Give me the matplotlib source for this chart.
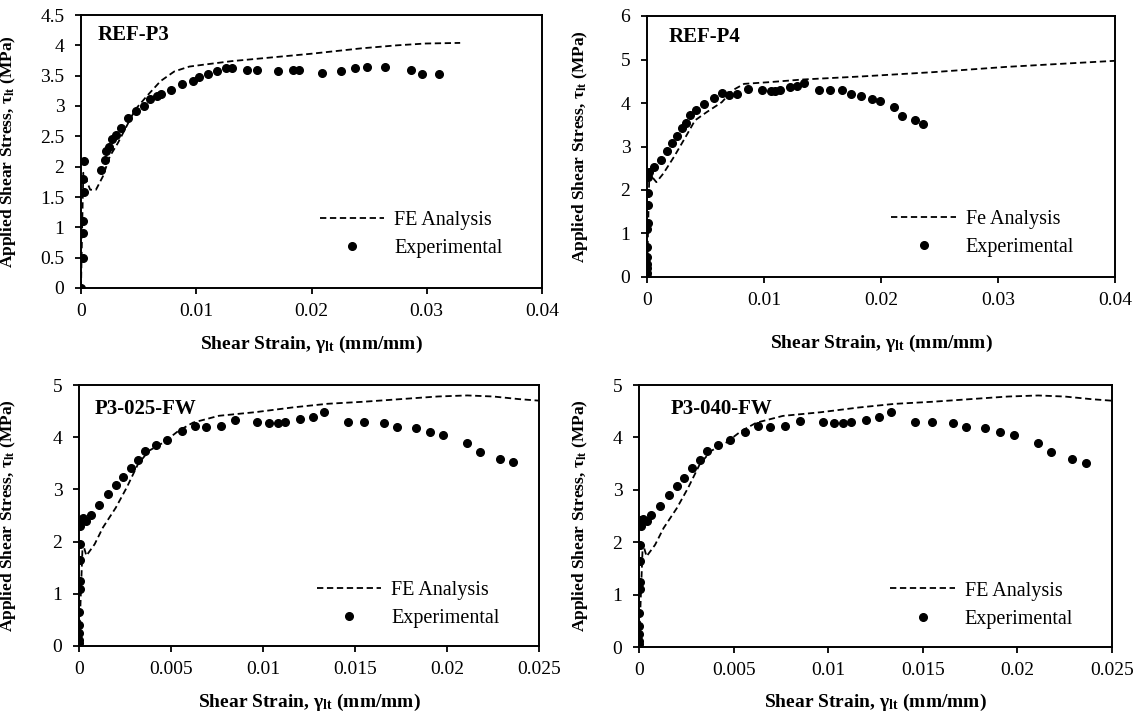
import matplotlib
matplotlib.use("Agg")
import matplotlib.pyplot as plt

plt.rcParams['font.family'] = ['Liberation Serif', 'DejaVu Serif']
plt.rcParams['mathtext.fontset'] = 'custom'
plt.rcParams['mathtext.rm'] = 'Liberation Serif:bold'
plt.rcParams['mathtext.bf'] = 'Liberation Serif:bold'
plt.rcParams['mathtext.it'] = 'Liberation Serif:bold'

# ---- REF-P3 ----
p3_exp_x = [0, 0.0002, 0.0002, 0.0002, 0.0003, 0.0002, 0.0003, 0.00177, 0.0021, 0.0022,
            0.0024, 0.0027, 0.0030, 0.0035, 0.0041, 0.0048, 0.0055, 0.0060, 0.0066, 0.0069,
            0.0078, 0.0088, 0.0097, 0.0102, 0.0110, 0.0118, 0.0126, 0.0131, 0.0144, 0.0153,
            0.0171, 0.0184, 0.0189, 0.0209, 0.0226, 0.0238, 0.0248, 0.0264, 0.0286, 0.0296,
            0.0311]
p3_exp_y = [0, 0.5, 0.91, 1.1, 1.58, 1.8, 2.1, 1.95, 2.11, 2.25,
            2.33, 2.45, 2.53, 2.64, 2.8, 2.91, 3.0, 3.12, 3.16, 3.2,
            3.27, 3.36, 3.42, 3.47, 3.52, 3.57, 3.62, 3.62, 3.59, 3.59,
            3.57, 3.59, 3.59, 3.55, 3.58, 3.62, 3.65, 3.64, 3.6, 3.52,
            3.52]
p3_fe_x = [0, 0.0001, 0.0002, 0.0008, 0.0013, 0.0019, 0.0025, 0.0032, 0.0038, 0.0047,
           0.0057, 0.0069, 0.0081, 0.0094, 0.0106, 0.0131, 0.0165, 0.0199, 0.0243, 0.0274,
           0.0299, 0.0329]
p3_fe_y = [0, 1.0, 1.9, 1.62, 1.62, 1.84, 2.17, 2.39, 2.61, 2.94,
           3.16, 3.41, 3.57, 3.65, 3.68, 3.74, 3.8, 3.86, 3.95, 4.0,
           4.03, 4.04]

# ---- REF-P4 ----
p4_exp_x = [0, 0, 0, 0, 0.00002, 0.00002, 0.00004, 0.00006, 0.00008, 0.0001,
            0.0001, 0.0002, 0.0006, 0.0012, 0.0017, 0.0021, 0.0026, 0.0030, 0.0033, 0.0037,
            0.0042, 0.0049, 0.0057, 0.0064, 0.0070, 0.0077, 0.0086, 0.0098, 0.0106, 0.0109,
            0.0114, 0.0122, 0.0128, 0.0134, 0.0147, 0.0156, 0.0167, 0.0174, 0.0183, 0.0192,
            0.0199, 0.0211, 0.0218, 0.0229, 0.0236]
p4_exp_y = [0, 0.1, 0.2, 0.3, 0.46, 0.68, 1.1, 1.25, 1.65, 1.93,
            2.3, 2.42, 2.53, 2.7, 2.9, 3.08, 3.23, 3.43, 3.55, 3.72,
            3.85, 3.97, 4.12, 4.23, 4.19, 4.21, 4.33, 4.29, 4.28, 4.28,
            4.31, 4.37, 4.39, 4.46, 4.31, 4.31, 4.29, 4.21, 4.15, 4.09,
            4.04, 3.91, 3.7, 3.62, 3.51]
p4_fe_x = [0, 0.0001, 0.0002, 0.0008, 0.0014, 0.0023, 0.0033, 0.0041, 0.0051, 0.0064,
           0.0073, 0.0083, 0.0105, 0.0133, 0.0183, 0.0245, 0.0307, 0.04]
p4_fe_y = [0, 1.2, 2.38, 2.18, 2.38, 2.76, 3.22, 3.6, 3.79, 4.02,
           4.29, 4.44, 4.48, 4.54, 4.61, 4.71, 4.83, 4.97]

# ---- P3-025-FW ----
fw25_exp_x = [0, 0, 0.00002, 0.00002, 0.00002, 0.00004, 0.00004, 0.00004, 0.00006, 0.00008,
              0.0001, 0.0002, 0.0004, 0.00065, 0.0011, 0.0016, 0.0020, 0.0024, 0.0028, 0.0032,
              0.0036, 0.0042, 0.0048, 0.0056, 0.0063, 0.0069, 0.0077, 0.0085, 0.0097, 0.0103,
              0.0108, 0.0112, 0.0120, 0.0127, 0.0133, 0.0146, 0.0155, 0.0166, 0.0173, 0.0183,
              0.0191, 0.0198, 0.0211, 0.0218, 0.0229, 0.0236]
fw25_exp_y = [0.05, 0.12, 0.25, 0.4, 0.65, 1.1, 1.25, 1.65, 1.95, 2.3,
              2.42, 2.45, 2.4, 2.51, 2.7, 2.91, 3.08, 3.23, 3.41, 3.57,
              3.74, 3.85, 3.95, 4.11, 4.22, 4.19, 4.22, 4.32, 4.3, 4.27,
              4.27, 4.3, 4.34, 4.39, 4.48, 4.3, 4.3, 4.27, 4.2, 4.17,
              4.1, 4.04, 3.89, 3.72, 3.59, 3.52]
fw25_fe_x = [0, 0.0001, 0.0002, 0.0004, 0.00085, 0.0013, 0.0020, 0.0026, 0.0032, 0.0038,
             0.0046, 0.0054, 0.0062, 0.0076, 0.0096, 0.0116, 0.0135, 0.0155, 0.0175, 0.0195,
             0.0211, 0.0225, 0.0239, 0.025]
fw25_fe_y = [0, 1.0, 1.98, 1.73, 1.95, 2.27, 2.65, 3.04, 3.48, 3.74,
             3.9, 4.12, 4.28, 4.41, 4.48, 4.57, 4.64, 4.68, 4.73, 4.78,
             4.8, 4.78, 4.73, 4.7]

# ---- P3-040-FW (same test curves) ----
fw40_exp_x = list(fw25_exp_x)
fw40_exp_y = list(fw25_exp_y)
fw40_fe_x = list(fw25_fe_x)
fw40_fe_y = list(fw25_fe_y)

FS = 14


def draw_panel(ax, box, exp_x, exp_y, fe_x, fe_y, title, fe_name, xmax, xticks, xlabels,
               ymax, yticks, ylabels, title_pos, leg_anchor, xlab_y, ylab_x):
    """画一个子图：FE 虚线 + 试验散点"""
    ax.plot(fe_x, fe_y, color='black', lw=1.3, linestyle=(0, (3.5, 2)), label=fe_name)
    ax.plot(exp_x, exp_y, 'o', color='black', ms=5.5, label='Experimental')
    ax.set_xlim(0, xmax)
    ax.set_ylim(0, ymax)
    ax.set_xticks(xticks)
    ax.set_xticklabels(xlabels)
    ax.set_yticks(yticks)
    ax.set_yticklabels(ylabels)
    for s in ax.spines.values():
        s.set_linewidth(1.4)
    ax.tick_params(direction='out', length=4, width=1.3, labelsize=FS)
    ax.tick_params(axis='x', pad=7)
    ax.tick_params(axis='y', pad=8)
    ax.text(title_pos[0], title_pos[1], title, transform=ax.transAxes, fontsize=15,
            fontweight='bold', ha='left', va='center')
    ax.legend(loc='lower right', bbox_to_anchor=leg_anchor, frameon=False, fontsize=14.5,
              handlelength=3.2, handletextpad=0.5, labelspacing=0.45, borderpad=0,
              borderaxespad=0)
    ax.set_xlabel(r'Shear Strain, γ$_{\mathrm{lt}}$ (mm/mm)', fontsize=14, fontweight='bold')
    ax.set_ylabel(r'Applied Shear Stress, τ$_{\mathrm{lt}}$ (MPa)', fontsize=12.5,
                  fontweight='bold')
    # 标签位置按像素换算
    l, r, t, b = box
    ax.xaxis.set_label_coords(0.5, (b - xlab_y) / (b - t))
    ax.yaxis.set_label_coords((ylab_x - l) / (r - l), 0.5)


W, H = 1141, 717
fig = plt.figure(figsize=(W / 100, H / 100), dpi=100)


def add_ax(box):
    l, r, t, b = box
    return fig.add_axes([l / W, 1 - b / H, (r - l) / W, (b - t) / H])


# 左, 右, 上, 下 (像素)
box_tl = (81, 542, 15, 288)
box_tr = (647, 1115, 16, 277)
box_bl = (79, 539, 385, 646)
box_br = (639, 1112, 385, 647)

ax1 = add_ax(box_tl)
draw_panel(ax1, box_tl, p3_exp_x, p3_exp_y, p3_fe_x, p3_fe_y, 'REF-P3', 'FE Analysis',
           0.04, [0, 0.01, 0.02, 0.03, 0.04], ['0', '0.01', '0.02', '0.03', '0.04'],
           4.5, [0, 0.5, 1, 1.5, 2, 2.5, 3, 3.5, 4, 4.5],
           ['0', '0.5', '1', '1.5', '2', '2.5', '3', '3.5', '4', '4.5'],
           (0.037, 0.927), (0.915, 0.11), 334, 18)

ax2 = add_ax(box_tr)
draw_panel(ax2, box_tr, p4_exp_x, p4_exp_y, p4_fe_x, p4_fe_y, 'REF-P4', 'Fe Analysis',
           0.04, [0, 0.01, 0.02, 0.03, 0.04], ['0', '0.01', '0.02', '0.03', '0.04'],
           6, [0, 1, 2, 3, 4, 5, 6], ['0', '1', '2', '3', '4', '5', '6'],
           (0.047, 0.92), (0.913, 0.075), 333, 590)

ax3 = add_ax(box_bl)
draw_panel(ax3, box_bl, fw25_exp_x, fw25_exp_y, fw25_fe_x, fw25_fe_y, 'P3-025-FW', 'FE Analysis',
           0.025, [0, 0.005, 0.01, 0.015, 0.02, 0.025],
           ['0', '0.005', '0.01', '0.015', '0.02', '0.025'],
           5, [0, 1, 2, 3, 4, 5], ['0', '1', '2', '3', '4', '5'],
           (0.033, 0.908), (0.914, 0.07), 692, 18)

ax4 = add_ax(box_br)
draw_panel(ax4, box_br, fw40_exp_x, fw40_exp_y, fw40_fe_x, fw40_fe_y, 'P3-040-FW', 'FE Analysis',
           0.025, [0, 0.005, 0.01, 0.015, 0.02, 0.025],
           ['0', '0.005', '0.01', '0.015', '0.02', '0.025'],
           5, [0, 1, 2, 3, 4, 5], ['0', '1', '2', '3', '4', '5'],
           (0.067, 0.908), (0.918, 0.07), 692, 590)

fig.savefig('out.png', dpi=100)
